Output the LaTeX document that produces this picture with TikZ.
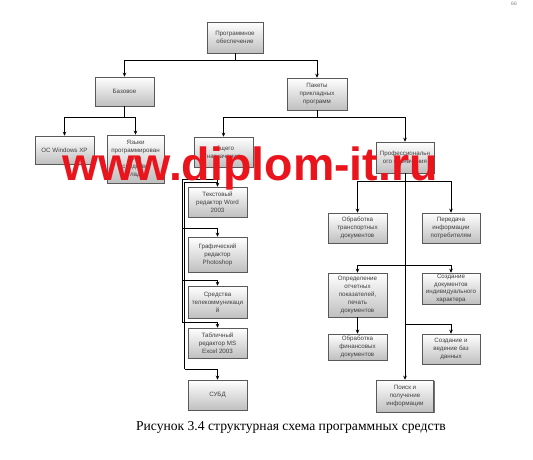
\documentclass[tikz,border=0pt]{standalone}
\usepackage{fontspec}
\setmainfont{Liberation Sans}
\newfontfamily\capfont{Liberation Serif}
\usetikzlibrary{shadows,arrows.meta,calc}
\definecolor{wmred}{RGB}{234,20,28}
\begin{document}
\begin{tikzpicture}[x=1pt,y=-1pt,
 box/.style={draw=black!65, line width=0.6pt, top color=white, bottom color=black!25,
   drop shadow={shadow xshift=1.4pt,shadow yshift=-1.4pt,fill=black!65,opacity=0.85},
   align=center, font=\fontsize{6.2}{7.9}\selectfont, text=black!75, inner sep=0.5pt,
   minimum width=59pt},
 con/.style={line width=0.9pt, black},
 arr/.style={con, -{Stealth[length=4pt,width=3.6pt]}}]
\fill[white] (0,0) rectangle (533,460);
\useasboundingbox (0,0) rectangle (533,460);

% boxes
\node[box, minimum width=56pt, minimum height=31pt] (top) at (235,37.5) {Программное\\обеспечение};
\node[box, minimum height=29pt] (baz) at (124.5,91.5) {Базовое};
\node[box, minimum width=60pt, minimum height=32pt] (pak) at (317,94) {Пакеты\\прикладных\\программ};
\node[box, minimum height=28pt] (os) at (64.5,150) {ОС Windows XP};
\node[box, minimum width=57pt, minimum height=48pt] (yaz) at (135.5,159) {Языки\\программирован\\ия и\\средства\\отладки};
\node[box, minimum height=30pt] (gen) at (223.5,152) {общего\\назначения};
\node[box, minimum width=58pt, minimum height=31pt] (pro) at (405,157.5) {Профессиональн\\ого назначения};

\node[box, minimum height=30pt] (word) at (217.5,202) {Текстовый\\редактор Word\\2003};
\node[box, minimum height=35pt] (photo) at (217.5,254.5) {Графический\\редактор\\Photoshop};
\node[box, minimum height=32pt] (tele) at (217.5,302) {Средства\\телекоммуникаци\\й};
\node[box, minimum height=30pt] (excel) at (217.5,343) {Табличный\\редактор MS\\Excel 2003};
\node[box, minimum height=30pt] (subd) at (217.5,395) {СУБД};

\node[box, minimum height=30pt] (tr) at (357.5,228) {Обработка\\транспортных\\документов};
\node[box, minimum width=58pt, minimum height=30pt] (per) at (451,228) {Передача\\информации\\потребителям};
\node[box, minimum height=44pt] (opr) at (357.5,295) {Определение\\отчетных\\показателей,\\печать\\документов};
\node[box, minimum width=58pt, minimum height=31pt] (ind) at (451,288.5) {Создание\\документов\\индивидуального\\характера};
\node[box, minimum height=26pt] (fin) at (357.5,347) {Обработка\\финансовых\\документов};
\node[box, minimum width=58pt, minimum height=30pt] (bd) at (451,349) {Создание и\\ведение баз\\данных};
\node[box, minimum width=57pt, minimum height=32pt] (poisk) at (405,396) {Поиск и\\получение\\информации};

% junction coordinates
\coordinate (j1) at (235,60);
\coordinate (j2) at (124.5,117);
\coordinate (j3) at (317,117);
\coordinate (j4) at (405,181);
\coordinate (j5) at (405,265);
\coordinate (j6) at (405,324);
\coordinate (k1) at (217.5,179);
\coordinate (b1) at (182,179);
\coordinate (b2) at (182,322);
\coordinate (k2) at (217.5,182);
\coordinate (b3) at (184.5,182);
\coordinate (b4) at (184.5,369);
\coordinate (c1) at (182,228);
\coordinate (c2) at (182,280);

% connectors
\draw[con] (top.south) -- (j1);
\draw[arr] (j1) -| (baz.north);
\draw[arr] (j1) -| (pak.north);
\draw[con] (baz.south) -- (j2);
\draw[arr] (j2) -| (os.north);
\draw[arr] (j2) -| (yaz.north);
\draw[con] (pak.south) -- (j3);
\draw[arr] (j3) -| (gen.north);
\draw[arr] (j3) -| (pro.north);

\draw[arr] (gen.south -| word.north) -- (word.north);
\draw[con] (k1) -- (b1) -- (b2);
\draw[con] (k2) -- (b3) -- (b4);
\draw[arr] (c1) -| (photo.north);
\draw[arr] (c2) -| (tele.north);
\draw[arr] (b2) -| (excel.north);
\draw[arr] (b4) -| (subd.north);

\draw[arr] (pro.south) -- (poisk.north);
\draw[arr] (j4) -| (tr.north);
\draw[arr] (j4) -| (per.north);
\draw[arr] (j5) -| (opr.north);
\draw[arr] (j5) -| (ind.north);
\draw[arr] (j6) -| (bd.north);
\draw[arr] (opr.south) -- (fin.north);

% watermark
\node[anchor=base west, inner sep=0, text=wmred,
  font=\bfseries\fontsize{46.5}{46.5}\selectfont] (wm) at (62,180) {www.diplom-it.ru};

% caption and page number
\node[font=\capfont\fontsize{13.6}{15}\selectfont] (cap) at (291,427) {Рисунок 3.4 структурная схема программных средств};
\node[font=\fontsize{5}{6}\selectfont, text=black!50] (pg) at (514,4) {66};
\end{tikzpicture}
\end{document}
